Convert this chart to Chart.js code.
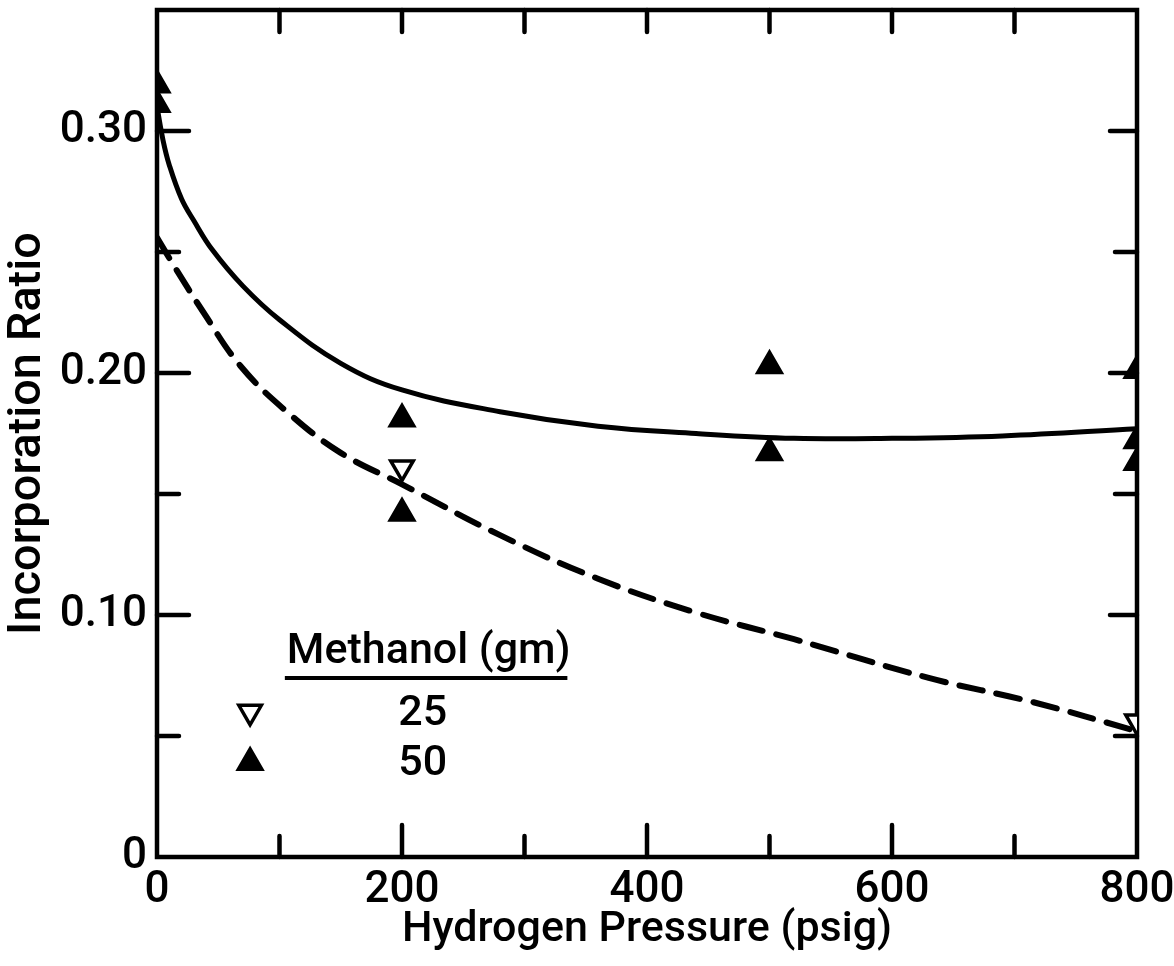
<!DOCTYPE html>
<html>
<head>
<meta charset="utf-8">
<script src="https://cdn.jsdelivr.net/npm/chart.js@4"></script>
<style>
  html, body { margin: 0; padding: 0; background: #fff; }
  #wrap { width: 1174px; height: 966px; }
</style>
</head>
<body>
<div id="wrap"><canvas id="chart"></canvas></div>
<script>
// measured points, methanol 25 gm (open down-triangles)
const pressure25 = [200, 800]
const ratio25 = [0.161, 0.056]

// measured points, methanol 50 gm (filled triangles)
const pressure50 = [0, 0, 200, 200, 500, 500, 800, 800, 800]
const ratio50 = [0.319, 0.311, 0.181, 0.142, 0.203, 0.167, 0.201, 0.172, 0.163]

// hand-drawn fit curves
const fit50X = [0, 5, 10, 20, 30, 45, 70, 100, 150, 200, 280, 360, 440, 520, 600, 690, 800]
const fit50Y = [0.31, 0.296, 0.286, 0.272, 0.263, 0.251, 0.236, 0.222, 0.204, 0.193, 0.184, 0.178, 0.175, 0.173, 0.173, 0.174, 0.177]
const fit25X = [0, 13, 38, 68, 106, 150, 200, 280, 360, 440, 520, 630, 715, 800]
const fit25Y = [0.256, 0.245, 0.225, 0.203, 0.184, 0.167, 0.154, 0.133, 0.115, 0.101, 0.09, 0.074, 0.064, 0.052]

const xLabels = ['0', '200', '400', '600', '800']
const yLabels = ['0', '0.10', '0.20', '0.30']
const legendTitle = 'Methanol (gm)'
const legendNames = ['25', '50']

const FONT = 'Roboto, Liberation Sans, Arial, sans-serif'
const INK = '#000'

const pts = (xs, ys) => xs.map((x, i) => ({ x, y: ys[i] }))

// the scale boxes are pinned so the plot frame lands where the figure has it
function pin(s, size) {
  if (s.isHorizontal()) s.height = size
  else s.width = size
  s.paddingLeft = 0
  s.paddingRight = 0
  s.paddingTop = 0
  s.paddingBottom = 0
}

const frameTicks = {
  id: 'frameTicks',
  beforeDatasetsDraw(chart) {
    const { ctx, chartArea: a, scales: { x, y } } = chart
    ctx.save()
    ctx.strokeStyle = INK
    ctx.lineWidth = 4.5
    ctx.lineCap = 'round'
    ctx.strokeRect(a.left, a.top, a.right - a.left, a.bottom - a.top)
    for (let v = 100; v < 800; v += 100) {
      const px = x.getPixelForValue(v)
      const len = v % 200 === 0 ? 32 : 21
      ctx.beginPath()
      ctx.moveTo(px, a.bottom); ctx.lineTo(px, a.bottom - len)
      ctx.moveTo(px, a.top); ctx.lineTo(px, a.top + 22)
      ctx.stroke()
    }
    for (let i = 1; i <= 6; i++) {
      const py = y.getPixelForValue(i * 0.05)
      const len = i % 2 === 0 ? 32 : 22
      ctx.beginPath()
      ctx.moveTo(a.left, py); ctx.lineTo(a.left + len, py)
      ctx.moveTo(a.right, py); ctx.lineTo(a.right - (i % 2 === 0 ? 27 : 22), py)
      ctx.stroke()
    }
    ctx.restore()
  },
  afterDraw(chart) {
    const { ctx, scales: { x, y } } = chart
    ctx.save()
    ctx.fillStyle = INK
    ctx.strokeStyle = INK
    ctx.font = '500 43px ' + FONT
    ctx.textBaseline = 'alphabetic'
    ctx.textAlign = 'left'
    const tx = x.getPixelForValue(106)
    ctx.fillText(legendTitle, tx, y.getPixelForValue(0.08))
    ctx.lineWidth = 4
    ctx.beginPath()
    ctx.moveTo(tx - 2, y.getPixelForValue(0.074))
    ctx.lineTo(x.getPixelForValue(335), y.getPixelForValue(0.074))
    ctx.stroke()
    const mx = x.getPixelForValue(76)
    const lx = x.getPixelForValue(197)
    const rows = [y.getPixelForValue(0.06), y.getPixelForValue(0.039)]
    ctx.textBaseline = 'middle'
    legendNames.forEach((name, i) => ctx.fillText(name, lx, rows[i] + 2))
    ctx.lineWidth = 3.5
    ctx.fillStyle = '#fff'
    Chart.helpers.drawPoint(ctx, { pointStyle: 'triangle', radius: 13, rotation: 180, borderWidth: 3.5 }, mx, rows[0])
    ctx.fillStyle = INK
    ctx.lineWidth = 3
    Chart.helpers.drawPoint(ctx, { pointStyle: 'triangle', radius: 14, rotation: 0, borderWidth: 3 }, mx, rows[1])
    ctx.restore()
  }
}

new Chart(document.getElementById('chart'), {
  type: 'line',
  data: {
    datasets: [
      {
        label: 'fit 50',
        data: pts(fit50X, fit50Y),
        borderColor: INK,
        borderWidth: 5,
        pointRadius: 0,
        tension: 0.4,
        fill: false,
      },
      {
        label: 'fit 25',
        data: pts(fit25X, fit25Y),
        borderColor: INK,
        borderWidth: 6,
        borderDash: [24, 14],
        borderCapStyle: 'round',
        pointRadius: 0,
        tension: 0.4,
        fill: false,
      },
      {
        label: '25',
        data: pts(pressure25, ratio25),
        showLine: false,
        pointStyle: 'triangle',
        rotation: 180,
        pointRadius: 13,
        pointBorderWidth: 3.5,
        pointBackgroundColor: '#fff',
        pointBorderColor: INK,
      },
      {
        label: '50',
        data: pts(pressure50, ratio50),
        showLine: false,
        pointStyle: 'triangle',
        pointRadius: 14,
        pointBorderWidth: 3,
        pointBackgroundColor: INK,
        pointBorderColor: INK,
      },
    ],
  },
  options: {
    responsive: true,
    maintainAspectRatio: false,
    animation: false,
    layout: { autoPadding: false, padding: { top: 10, right: 37, left: 0, bottom: 0 } },
    plugins: {
      legend: { display: false },
      tooltip: { enabled: false },
    },
    scales: {
      x: {
        type: 'linear',
        min: 0,
        max: 800,
        grid: { display: false, drawTicks: false },
        border: { display: false },
        ticks: {
          stepSize: 200,
          padding: 8,
          color: INK,
          font: { family: FONT, size: 44, weight: '500' },
          callback: (v) => xLabels[v / 200],
        },
        title: {
          display: true,
          text: 'Hydrogen Pressure (psig)',
          color: INK,
          font: { family: FONT, size: 43, weight: '500' },
          padding: { top: 0, bottom: 10 },
        },
        afterFit: (s) => pin(s, 109),
      },
      y: {
        min: 0,
        max: 0.35,
        grid: { display: false, drawTicks: false },
        border: { display: false },
        ticks: {
          stepSize: 0.1,
          padding: 10,
          color: INK,
          font: { family: FONT, size: 44, weight: '500' },
          callback: (v) => yLabels[Math.round(v * 10)],
        },
        title: {
          display: true,
          text: 'Incorporation Ratio',
          color: INK,
          font: { family: FONT, size: 47, weight: '500' },
          padding: { top: 0, bottom: 0 },
        },
        afterFit: (s) => pin(s, 157),
      },
    },
  },
  plugins: [frameTicks],
})
</script>
</body>
</html>
